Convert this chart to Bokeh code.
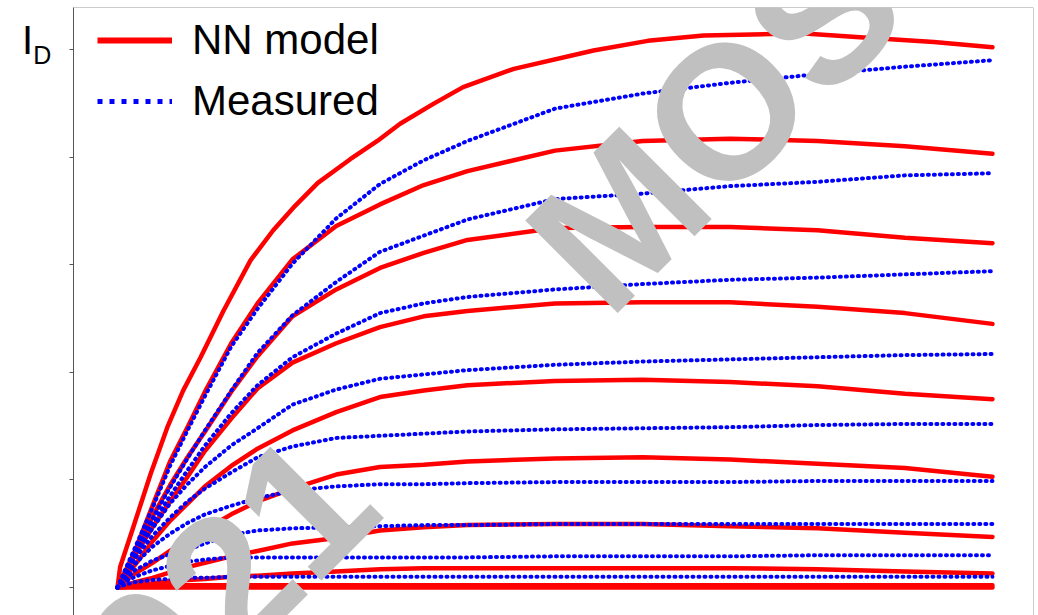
import numpy as np
from bokeh.plotting import figure
from bokeh.models import Range1d, Label, Span, Legend, LegendItem, FixedTicker, Div
from bokeh.layouts import row
from bokeh.embed import file_html
from bokeh.resources import INLINE

# Drain voltage grid (V) and drain currents (arbitrary units, 1 per y tick)
V_D = [0, 0.01, 0.02, 0.04, 0.06, 0.08, 0.10, 0.13, 0.16, 0.20, 0.25, 0.30,
       0.35, 0.40, 0.50, 0.60, 0.70, 0.80, 0.90, 1.00]

# top NN model curve, read on its own finer voltage points
V_NN_1 = [0, 0.003, 0.018, 0.038, 0.057, 0.075, 0.095, 0.121, 0.152, 0.178, 0.201, 0.229,
          0.266, 0.297, 0.323, 0.360, 0.395, 0.453, 0.544, 0.606, 0.670, 0.781, 0.857, 0.933, 1.00]
NN_1 = [0, 0.19, 0.56, 1.06, 1.49, 1.83, 2.14, 2.57, 3.04, 3.32, 3.53, 3.76,
        3.98, 4.15, 4.31, 4.49, 4.65, 4.82, 4.99, 5.08, 5.13, 5.15, 5.11, 5.07, 5.02]

# other NN model curves (top to bottom)
NN_2 = [0, 0.17, 0.34, 0.76, 1.17, 1.49, 1.82, 2.27, 2.64, 3.05, 3.36, 3.56, 3.74, 3.87, 4.06, 4.15, 4.17, 4.15, 4.10, 4.03]
NN_3 = [0, 0.16, 0.33, 0.66, 0.95, 1.21, 1.45, 1.82, 2.15, 2.52, 2.77, 2.97, 3.11, 3.23, 3.34, 3.35, 3.35, 3.32, 3.25, 3.20]
NN_4 = [0, 0.15, 0.30, 0.56, 0.80, 1.03, 1.27, 1.57, 1.85, 2.09, 2.27, 2.42, 2.52, 2.57, 2.64, 2.65, 2.65, 2.61, 2.55, 2.45]
NN_5 = [0, 0.11, 0.21, 0.43, 0.62, 0.78, 0.94, 1.13, 1.29, 1.46, 1.63, 1.77, 1.83, 1.88, 1.92, 1.93, 1.91, 1.87, 1.80, 1.75]
NN_6 = [0, 0.07, 0.13, 0.23, 0.34, 0.45, 0.54, 0.68, 0.80, 0.92, 1.05, 1.12, 1.14, 1.17, 1.20, 1.21, 1.19, 1.15, 1.11, 1.03]
NN_7 = [0, 0.02, 0.05, 0.09, 0.14, 0.19, 0.23, 0.29, 0.34, 0.41, 0.46, 0.53, 0.56, 0.58, 0.59, 0.59, 0.57, 0.55, 0.51, 0.47]
NN_8 = [0, 0.01, 0.02, 0.04, 0.06, 0.07, 0.08, 0.10, 0.11, 0.13, 0.15, 0.17, 0.18, 0.18, 0.18, 0.18, 0.18, 0.17, 0.15, 0.13]
NN_9 = [0, 0.005, 0.01, 0.015, 0.02, 0.02, 0.02, 0.02, 0.02, 0.02, 0.02, 0.02, 0.02, 0.02, 0.02, 0.02, 0.02, 0.02, 0.02, 0.02]
NN_10 = [0, 0, 0, 0, 0, 0, 0, 0, 0, 0, 0, 0, 0, 0, 0, 0, 0, 0, 0, 0]

# Measured curves (top to bottom)
MEAS_1 = [0, 0.19, 0.37, 0.74, 1.13, 1.46, 1.78, 2.24, 2.59, 3.01, 3.43, 3.75, 3.97, 4.15, 4.45, 4.59, 4.69, 4.77, 4.84, 4.90]
MEAS_2 = [0, 0.17, 0.35, 0.64, 0.93, 1.20, 1.46, 1.83, 2.18, 2.53, 2.84, 3.12, 3.27, 3.42, 3.61, 3.66, 3.73, 3.77, 3.83, 3.85]
MEAS_3 = [0, 0.16, 0.33, 0.60, 0.85, 1.09, 1.32, 1.62, 1.88, 2.14, 2.36, 2.55, 2.64, 2.70, 2.77, 2.82, 2.86, 2.88, 2.91, 2.94]
MEAS_4 = [0, 0.14, 0.30, 0.55, 0.78, 0.96, 1.12, 1.32, 1.48, 1.70, 1.84, 1.94, 1.98, 2.02, 2.07, 2.10, 2.12, 2.14, 2.16, 2.17]
MEAS_5 = [0, 0.13, 0.27, 0.48, 0.65, 0.80, 0.92, 1.07, 1.21, 1.31, 1.39, 1.41, 1.43, 1.45, 1.47, 1.48, 1.49, 1.51, 1.52, 1.52]
MEAS_6 = [0, 0.11, 0.22, 0.38, 0.50, 0.60, 0.68, 0.76, 0.83, 0.90, 0.94, 0.96, 0.96, 0.97, 0.98, 0.98, 0.98, 0.99, 0.99, 0.99]
MEAS_7 = [0, 0.08, 0.16, 0.25, 0.31, 0.35, 0.41, 0.49, 0.53, 0.55, 0.56, 0.57, 0.58, 0.58, 0.59, 0.59, 0.59, 0.59, 0.59, 0.59]
MEAS_8 = [0, 0.06, 0.10, 0.16, 0.20, 0.24, 0.26, 0.28, 0.28, 0.28, 0.28, 0.28, 0.28, 0.28, 0.29, 0.29, 0.29, 0.30, 0.30, 0.30]
MEAS_9 = [0, 0.03, 0.05, 0.07, 0.08, 0.09, 0.09, 0.10, 0.10, 0.10, 0.10, 0.10, 0.10, 0.10, 0.10, 0.10, 0.10, 0.10, 0.10, 0.10]

NN_CURVES = [(V_NN_1, NN_1)] + [(V_D, c) for c in [NN_2, NN_3, NN_4, NN_5, NN_6, NN_7, NN_8, NN_9, NN_10]]
MEAS_CURVES = [MEAS_1, MEAS_2, MEAS_3, MEAS_4, MEAS_5, MEAS_6, MEAS_7, MEAS_8, MEAS_9]

Y_TICKS = [0, 1, 2, 3, 4, 5]
LEGEND_LABELS = ["NN model", "Measured"]
Y_LABEL_MAIN = "I"
Y_LABEL_SUB = "D"
WATERMARK_A = "2021"
WATERMARK_B = "MOS"

FONT = "Liberation Sans"
X0, X1 = -0.0503, 1.0469
Y0, Y1 = -0.260, 5.390

p = figure(frame_width=960, frame_height=608, output_backend="svg", toolbar_location=None,
           x_range=Range1d(X0, X1), y_range=Range1d(Y0, Y1), x_axis_location=None,
           min_border_left=5, min_border_right=5, min_border_top=7, min_border_bottom=0)
p.grid.visible = False
p.outline_line_color = None
p.background_fill_color = "white"
p.border_fill_color = "white"

yax = p.yaxis[0]
yax.ticker = FixedTicker(ticks=Y_TICKS)
yax.major_label_overrides = {t: "" for t in Y_TICKS}
yax.major_label_standoff = 0
yax.major_tick_out = 4
yax.major_tick_in = 0
yax.minor_tick_line_color = None
yax.axis_line_color = "#555555"
yax.major_tick_line_color = "#555555"

# frame top / right borders
p.add_layout(Span(location=Y1, dimension="width", line_color="#999999", line_width=1))
p.add_layout(Span(location=X1, dimension="height", line_color="#999999", line_width=1))

for xs, ys in NN_CURVES:
    p.line(xs, ys, line_color="#ff0000", line_width=4.5, line_join="round", line_cap="round")
for ys in MEAS_CURVES:
    p.line(V_D, ys, line_color="#0000ff", line_width=4, line_dash="1 5", line_cap="round")

# legend proxies (no visible data)
leg_r = p.line(x=[0.5], y=[np.nan], line_color="#ff0000", line_width=6)
leg_b = p.line(x=[0.5], y=[np.nan], line_color="#0000ff", line_width=5, line_dash="5 7")
legend = Legend(items=[LegendItem(label=LEGEND_LABELS[0], renderers=[leg_r]),
                       LegendItem(label=LEGEND_LABELS[1], renderers=[leg_b])],
                location=(24, 490), glyph_width=75, glyph_height=30, label_standoff=20,
                padding=0, margin=0, spacing=13, border_line_color=None,
                background_fill_alpha=0, label_text_font=FONT,
                label_text_font_size="42px", label_text_color="black")
p.add_layout(legend)

# watermark
p.add_layout(Label(x=0.256, y=1.110, text=WATERMARK_A, angle=np.pi / 4, text_align="right",
                   text_baseline="alphabetic", text_font=FONT, text_font_style="bold",
                   text_font_size="190px", text_color="#c0c0c0"))
p.add_layout(Label(x=0.508, y=2.900, text=WATERMARK_B, angle=np.pi / 4, text_align="left",
                   text_baseline="alphabetic", text_font=FONT, text_font_style="bold",
                   text_font_size="190px", text_color="#c0c0c0"))

# y-axis quantity label I_D (outside the frame)
ylab = Div(text=(
    '<div style="margin:0;padding:20px 0 0 22px;font-family:\'Liberation Sans\',Arial,sans-serif;'
    'font-size:40px;line-height:40px;color:#000;white-space:nowrap;">'
    + Y_LABEL_MAIN +
    '<span style="font-size:25px;line-height:25px;position:relative;top:10px;">'
    + Y_LABEL_SUB + '</span></div>'),
    width=68, height=80, margin=(0, 0, 0, 0))

layout = row(ylab, p, spacing=0)
open("out.html", "w").write(file_html(layout, INLINE))
